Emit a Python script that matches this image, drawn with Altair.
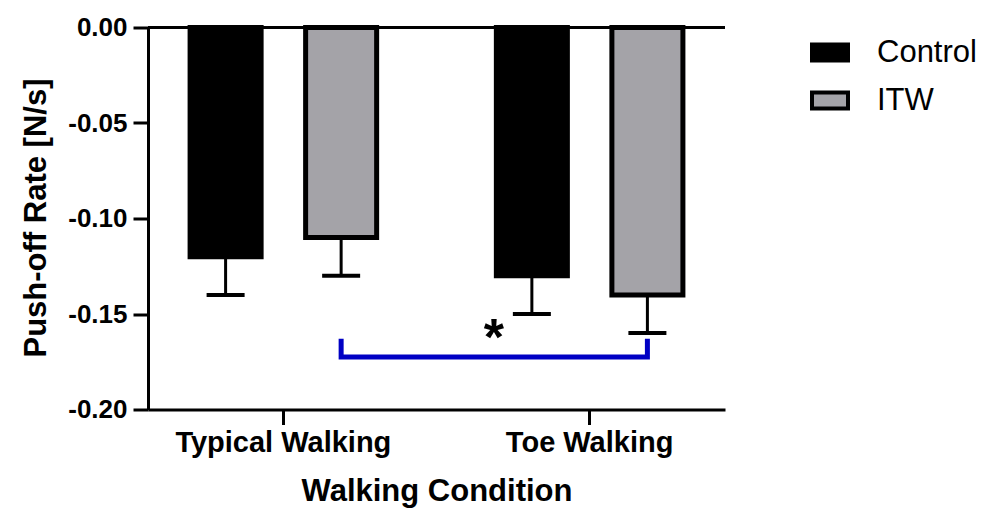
import altair as alt
import pandas as pd

# ---- data ----
conditions = ["Typical Walking", "Toe Walking"]
groups = ["Control", "ITW"]
control_mean = [-0.12, -0.13]
itw_mean = [-0.11, -0.14]
control_lower = [-0.14, -0.15]
itw_lower = [-0.13, -0.16]
bar_colors = ["#000000", "#a4a3a8"]
y_ticks = [0.0, -0.05, -0.10, -0.15, -0.20]

# significance bracket (ITW typical vs ITW toe)
bracket_conditions = ["Typical Walking", "Typical Walking", "Toe Walking", "Toe Walking"]
bracket_y = [-0.163, -0.1725, -0.1725, -0.163]
star_y = -0.158

rows = []
for i, c in enumerate(conditions):
    rows.append(dict(condition=c, group="Control", mean=control_mean[i], lower=control_lower[i]))
    rows.append(dict(condition=c, group="ITW", mean=itw_mean[i], lower=itw_lower[i]))
df = pd.DataFrame(rows)

bracket_df = pd.DataFrame({
    "condition": bracket_conditions,
    "group": ["ITW"] * 4,
    "mean": bracket_y,
    "order": [0, 1, 2, 3],
})
star_df = pd.DataFrame({"condition": ["Toe Walking"], "group": ["Control"],
                        "mean": [star_y], "label": ["*"]})
zero_df = pd.DataFrame({"mean": [0.0]})

FONT = "Liberation Sans"

x_axis = alt.Axis(
    title="Walking Condition", labelAngle=0, labelFont=FONT, labelFontSize=29,
    labelFontWeight="bold", labelPadding=4, labelLimit=0, tickSize=15, ticks=True,
    titleFont=FONT, titleFontSize=31,
    titleFontWeight="bold", titleBaseline="alphabetic", titleY=90.5,
    titleAnchor="middle",
)
y_axis = alt.Axis(
    title="Push-off Rate [N/s]", values=y_ticks, tickSize=15, ticks=True,
    labelExpr="datum.value == 0 ? '0.00' : '-' + format(abs(datum.value), '.2f')",
    labelFont=FONT, labelFontSize=26, labelFontWeight="bold", labelPadding=6,
    titleFont=FONT, titleFontSize=31, titleFontWeight="bold",
    titleAngle=270, titleBaseline="alphabetic", titleAlign="center",
    titleX=-103, titleY=190,
)

x_scale = alt.Scale(domain=conditions, paddingInner=0.2, paddingOuter=0.042)
xo_scale = alt.Scale(domain=groups, paddingInner=0.3853, paddingOuter=0.253)
y_scale = alt.Scale(domain=[-0.2, 0], nice=False, zero=False)

X = alt.X("condition:N", scale=x_scale, sort=conditions, axis=x_axis)
XO = alt.XOffset("group:N", scale=xo_scale, sort=groups)
Y = alt.Y("mean:Q", scale=y_scale, axis=y_axis)

bars = alt.Chart(df).mark_bar(stroke="black", strokeWidth=5, strokeJoin="miter").encode(
    x=X, xOffset=XO, y=Y,
    fill=alt.Fill("group:N", scale=alt.Scale(domain=groups, range=bar_colors),
                  legend=alt.Legend(
                      title=None, orient="none", legendX=662, legendY=5,
                      symbolType="M-1,-0.444H1V0.444H-1Z", symbolSize=1296,
                      symbolStrokeColor="black", symbolStrokeWidth=4,
                      symbolOpacity=1, labelFont=FONT, labelFontSize=31,
                      labelFontWeight="normal", labelColor="black",
                      labelOffset=27, rowPadding=12, padding=0)),
)

stems = alt.Chart(df).mark_rule(color="black", strokeWidth=3).encode(
    x=X, xOffset=XO, y=Y, y2="lower:Q"
)
caps = alt.Chart(df).mark_tick(color="black", thickness=4, size=38, orient="horizontal", opacity=1).encode(
    x=X, xOffset=XO, y=alt.Y("lower:Q", scale=y_scale, axis=y_axis)
)

zero_line = alt.Chart(zero_df).mark_rule(color="black", strokeWidth=3).encode(
    y=alt.Y("mean:Q", scale=y_scale, axis=y_axis)
)

bracket = alt.Chart(bracket_df).mark_line(color="#0000c4", strokeWidth=5, strokeJoin="miter", strokeCap="butt").encode(
    x=X, xOffset=XO, y=Y, order="order:Q"
)

star = alt.Chart(star_df).mark_text(
    font=FONT, fontSize=52, fontWeight="bold", color="black",
    baseline="middle", align="center", dx=-38, dy=10,
).encode(x=X, xOffset=XO, y=Y, text="label:N")

chart = alt.layer(zero_line, bars, stems, caps, bracket, star).properties(
    width=577, height=382,
    autosize=alt.AutoSizeParams(type="none"),
    padding={"left": 140, "top": 19.5, "right": 256, "bottom": 98},
).configure_view(stroke=None).configure_axis(
    grid=False, domainColor="black", domainWidth=3, tickColor="black",
    tickWidth=3, tickSize=15, labelColor="black", titleColor="black",
).configure_axisX(tickSize=15).configure_axisY(tickSize=15).configure_axisBand(
    tickSize=15
).configure_axisQuantitative(tickSize=15)

chart.save("out.html", embed_options={"renderer": "svg", "actions": False})
